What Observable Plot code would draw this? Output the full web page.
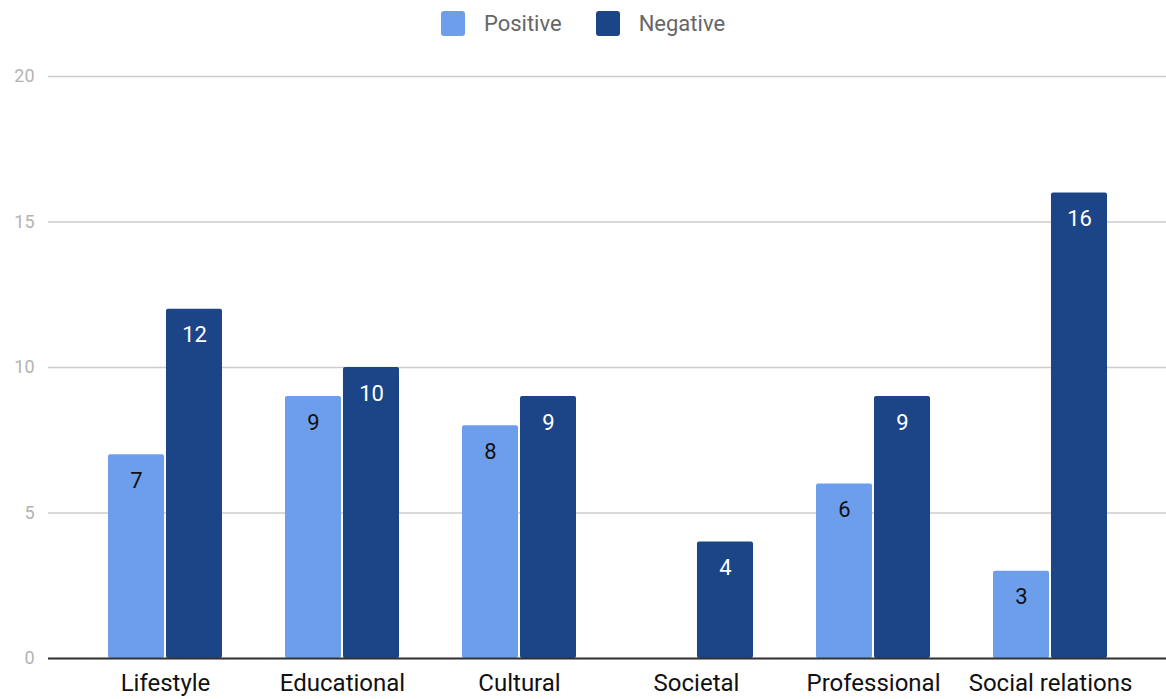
<!DOCTYPE html>
<html>
<head>
<meta charset="utf-8">
<script src="https://cdn.jsdelivr.net/npm/d3@7"></script>
<script src="https://cdn.jsdelivr.net/npm/@observablehq/plot@0.6"></script>
<style>
  body { margin: 0; background: #fff; font-family: Roboto, "Noto Sans", sans-serif; overflow: hidden; }
  #legend { height: 46px; display: flex; justify-content: center; align-items: center; gap: 0; font-size: 22px; color: #666; }
  .item { display: flex; align-items: center; margin: 0 17px; }
  .sw { width: 24px; height: 25px; border-radius: 3px; margin-right: 19px; }
  g[aria-label="y-axis tick label"] { fill: #b3b3b3; font-size: 18px; }
  g[aria-label="x-axis tick label"] { fill: #111; font-size: 24px; }
</style>
</head>
<body>
<div id="legend"></div>
<div id="chart"></div>
<script>
const categories = ["Lifestyle", "Educational", "Cultural", "Societal", "Professional", "Social relations"];
const positive = [7, 9, 8, 0, 6, 3];
const negative = [12, 10, 9, 4, 9, 16];
const series = ["Positive", "Negative"];
const colors = ["#6d9eeb", "#1c4587"];
const yTicks = [0, 5, 10, 15, 20];

const posData = categories.map((c, i) => ({category: c, value: positive[i]}));
const negData = categories.map((c, i) => ({category: c, value: negative[i]}));

// legend
const legend = document.getElementById("legend");
series.forEach((s, i) => {
  const it = document.createElement("div");
  it.className = "item";
  it.innerHTML = `<span class="sw" style="background:${colors[i]}"></span><span>${s}</span>`;
  legend.appendChild(it);
});

const W = 1166, ML = 48, MR = 0;
const pi = 0.357, po = 0.333;
const step = (W - ML - MR) / (categories.length - pi + 2 * po);
const bw = step * (1 - pi);
const half = bw / 2 + 1;
const off = bw / 4 + 0.5;

const chart = Plot.plot({
  width: W,
  height: 653,
  marginTop: 30,
  marginBottom: 41,
  marginLeft: ML,
  marginRight: MR,
  style: { fontFamily: "Roboto, sans-serif", background: "#fff" },
  x: { domain: categories, paddingInner: pi, paddingOuter: po, label: null },
  y: { domain: [0, 20], label: null },
  marks: [
    Plot.gridY(yTicks, { stroke: "#cccccc", strokeOpacity: 1, strokeWidth: 1.5 }),
    Plot.axisY(yTicks, { tickSize: 0, tickPadding: 14, label: null }),
    Plot.axisX({ tickSize: 0, tickPadding: 15, label: null }),
    Plot.barY(posData, { x: "category", y: "value", fill: colors[0], insetRight: half, rx: 2 }),
    Plot.barY(negData, { x: "category", y: "value", fill: colors[1], insetLeft: half, rx: 2 }),
    Plot.ruleY([0], { stroke: "#333", strokeWidth: 2 }),
    Plot.text(posData.filter(d => d.value > 0), { x: "category", y: "value", text: d => String(d.value), dx: -off, dy: 26, fill: "#111", fontSize: 22 }),
    Plot.text(negData.filter(d => d.value > 0), { x: "category", y: "value", text: d => String(d.value), dx: off, dy: 26, fill: "#fff", fontSize: 22 })
  ]
});
document.getElementById("chart").appendChild(chart);
</script>
</body>
</html>
